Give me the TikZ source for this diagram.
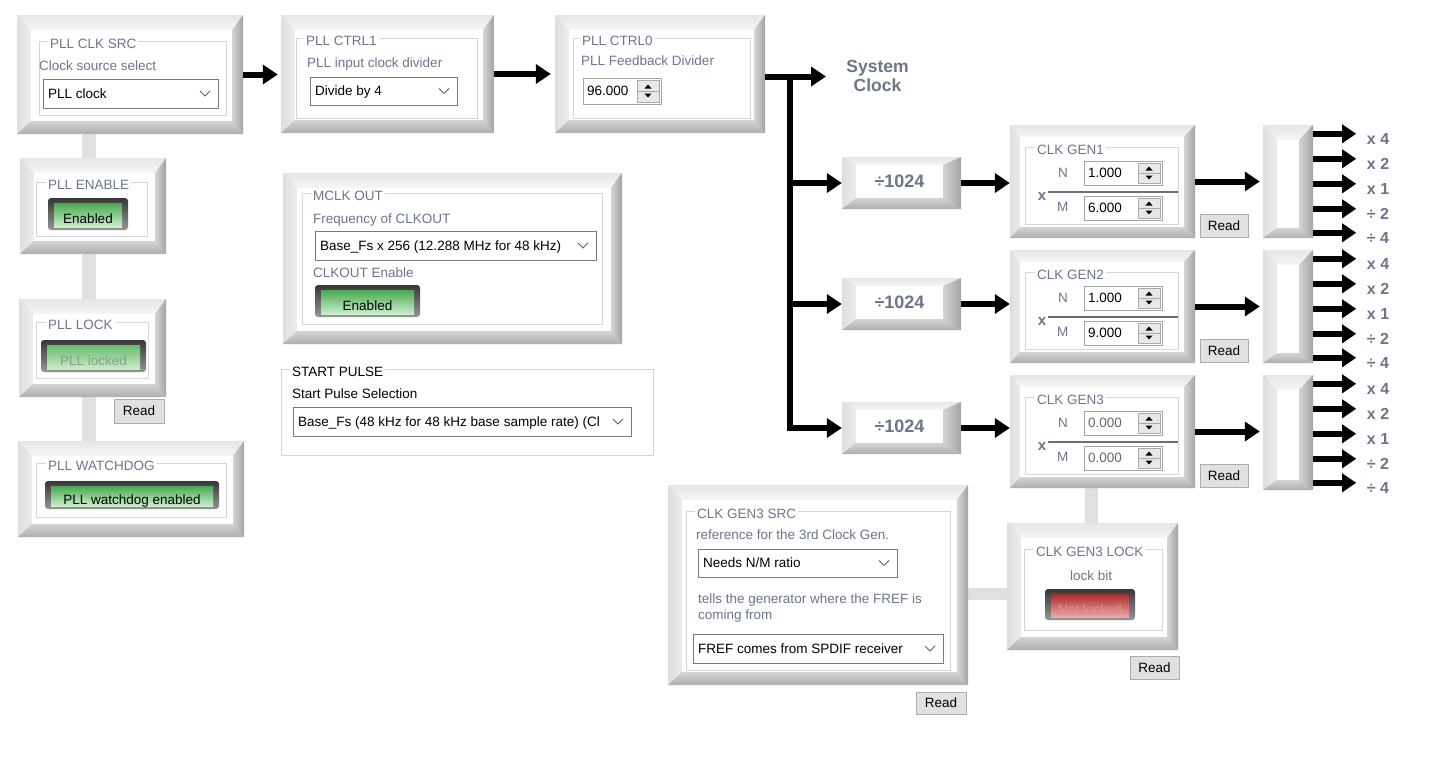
\documentclass[tikz,border=0pt]{standalone}
\usepackage{fontspec}
\setmainfont{Liberation Sans}
\usetikzlibrary{arrows.meta,fit,backgrounds,calc}

\definecolor{lblc}{RGB}{108,118,138}
\definecolor{valc}{RGB}{110,104,100}
\definecolor{bvface}{RGB}{220,220,220}
\definecolor{bvt1}{RGB}{230,230,230}
\definecolor{bvt2}{RGB}{246,246,246}
\definecolor{bvl1}{RGB}{222,222,222}
\definecolor{bvl2}{RGB}{236,236,236}
\definecolor{bvr1}{RGB}{212,212,212}
\definecolor{bvr2}{RGB}{164,164,164}
\definecolor{bvb1}{RGB}{212,212,212}
\definecolor{bvb2}{RGB}{174,174,174}
\definecolor{grpc}{RGB}{214,214,214}
\definecolor{barc}{RGB}{224,224,224}
\definecolor{btnface}{RGB}{225,225,225}
\definecolor{btnedge}{RGB}{173,173,173}
\definecolor{cbedge}{RGB}{122,122,122}
\definecolor{numedge}{RGB}{165,165,165}
\definecolor{spinface}{RGB}{232,232,232}
\definecolor{spinedge}{RGB}{170,170,170}
\definecolor{chevc}{RGB}{96,96,96}
\definecolor{fracc}{RGB}{112,112,112}
\definecolor{ledo1}{RGB}{55,55,55}
\definecolor{ledo2}{RGB}{150,150,150}
\definecolor{grn1}{RGB}{72,168,80}
\definecolor{grn2}{RGB}{205,238,205}
\definecolor{dgrn1}{RGB}{105,186,110}
\definecolor{dgrn2}{RGB}{202,236,202}
\definecolor{dgrnt}{RGB}{135,160,135}
\definecolor{red1}{RGB}{170,42,42}
\definecolor{red2}{RGB}{236,168,168}
\definecolor{redt}{RGB}{228,142,142}

\newcommand\fsz[1]{\fontsize{#1pt}{#1pt}\selectfont}
\newcommand\uif{\fsz{13.5}}

% bevelled panel: name, x1, y1, x2, y2, top, left, bottom, right widths
\newcommand\bevbox[9]{%
  \fill[bvface] (#2,#3) rectangle (#4,#5);
  \shade[top color=bvt1,bottom color=bvt2] (#2,#3) -- (#4,#3) -- ({#4-#9},{#3+#6}) -- ({#2+#7},{#3+#6}) -- cycle;
  \shade[left color=bvl1,right color=bvl2] (#2,#3) -- ({#2+#7},{#3+#6}) -- ({#2+#7},{#5-#8}) -- (#2,#5) -- cycle;
  \shade[left color=bvr1,right color=bvr2] (#4,#3) -- (#4,#5) -- ({#4-#9},{#5-#8}) -- ({#4-#9},{#3+#6}) -- cycle;
  \shade[top color=bvb1,bottom color=bvb2] (#2,#5) -- (#4,#5) -- ({#4-#9},{#5-#8}) -- ({#2+#7},{#5-#8}) -- cycle;
  \fill[white] ({#2+#7},{#3+#6}) rectangle ({#4-#9},{#5-#8});
  \node[fit={(#2,#3) (#4,#5)}, inner sep=0pt] (#1) {};
}
% group frame: name, x1, y1, x2, y2, title x, title, title colour
\newcommand\grp[8]{%
  \draw[grpc, line width=1pt] (#2,#3) rectangle (#4,#5);
  \node[ttl, text=#8] (#1) at ({#6-2},{#3+7.3}) {#7};
}
% combo box: name, x1, y1, x2, y2, text
\newcommand\combo[6]{%
  \draw[cbedge, fill=white, line width=1pt] (#2,#3) rectangle (#4,#5);
  \node[cbtxt] (#1) at ({#2+5},{(#3+#5)/2+4.8}) {#6};
  \draw[chev] ({#4-18},{(#3+#5)/2-2.5}) -- ({#4-13},{(#3+#5)/2+2.5}) -- ({#4-8},{(#3+#5)/2-2.5});
}
% numeric up-down: name, x1, y1, x2, y2, text, colour
\newcommand\numf[7]{%
  \draw[numedge, fill=white, line width=1pt] (#2,#3) rectangle (#4,#5);
  \node[cbtxt, text=#7] (#1) at ({#2+4},{(#3+#5)/2+4.8}) {#6};
  \draw[spinedge, fill=spinface, line width=0.8pt] ({#4-24},{#3+2}) rectangle ({#4-2},{#5-2});
  \draw[spinedge, line width=0.8pt] ({#4-24},{(#3+#5)/2}) -- ({#4-2},{(#3+#5)/2});
  \fill[black] ({#4-16.5},{(#3+#5)/2-2.5}) -- ({#4-9.5},{(#3+#5)/2-2.5}) -- ({#4-13},{(#3+#5)/2-6.5}) -- cycle;
  \fill[black] ({#4-16.5},{(#3+#5)/2+2.5}) -- ({#4-9.5},{(#3+#5)/2+2.5}) -- ({#4-13},{(#3+#5)/2+6.5}) -- cycle;
}
% Read button: name, x1, y1, x2, y2
\newcommand\readbtn[5]{%
  \draw[draw=btnedge, fill=btnface, line width=1pt] (#2,#3) rectangle (#4,#5);
  \node[anchor=base, inner sep=0pt, font=\uif] (#1) at ({(#2+#4)/2},{(#3+#5)/2+4.8}) {Read};
}
% LED button: name, x1, y1, x2, y2, text, top colour, bottom colour, text colour
\newcommand\led[9]{%
  \shade[rounded corners=3pt, top color=ledo1, bottom color=ledo2] (#2,#3) rectangle (#4,#5);
  \shade[top color=#7, bottom color=#8] ({#2+6},{#3+5}) rectangle ({#4-6},{#5-3});
  \node[anchor=base, inner sep=0pt, font=\uif, text=#9] (#1) at ({(#2+#4)/2},{(#3+#5)/2+9.5}) {#6};
}
% clock generator panel: name, outer top, title, N, M, value colour
\newcommand\clkgen[6]{%
  \pgfmathsetmacro\gb{#2+113}%
  \pgfmathsetmacro\gf{#2+22}%
  \bevbox{#1}{1010}{#2}{1195}{\gb}{12}{10}{11}{11}
  \grp{#1t}{1025}{\gf}{1178}{\gf+77}{1037}{#3}{lblc}
  \node[lab] (#1n) at (1058,\gf+30.8) {N};
  \numf{#1nv}{1084}{\gf+14}{1162}{\gf+38}{#4}{#6}
  \draw[fracc, line width=1.2pt] (1048,\gf+45) -- (1178,\gf+45);
  \node[anchor=base, inner sep=0pt, text=lblc, font=\fsz{15}\bfseries] (#1x) at (1042,\gf+53) {x};
  \node[lab] (#1m) at (1057,\gf+64.8) {M};
  \numf{#1mv}{1084}{\gf+49}{1162}{\gf+73}{#5}{#6}
  \readbtn{#1r}{1200}{#2+89}{1248}{#2+112}
}

\tikzset{
  lab/.style={anchor=base west, inner sep=0pt, text=lblc, font=\uif},
  labk/.style={lab, text=black},
  cbtxt/.style={anchor=base west, inner sep=0pt, font=\uif},
  ttl/.style={anchor=base west, fill=white, inner xsep=2pt, inner ysep=1pt, font=\uif},
  chev/.style={draw=chevc, line width=0.9pt},
  bar/.style={draw=barc, line width=14pt},
  arr/.style={line width=6pt, -{Triangle[length=15pt,width=19pt]}},
  oarr/.style={line width=5.5pt, -{Triangle[length=14pt,width=18pt]}},
  olab/.style={anchor=base west, inner sep=0pt, text=lblc, font=\fsz{16}\bfseries},
  divt/.style={anchor=base, inner sep=0pt, text=lblc, font=\fsz{18}\bfseries},
  syst/.style={anchor=base, inner sep=0pt, text=lblc, font=\fsz{17.5}\bfseries},
}

\begin{document}
\begin{tikzpicture}[x=1pt,y=-1pt]
\useasboundingbox (0,0) rectangle (1431,774);

% ---------------- left column ----------------
\bevbox{pllsrc}{17}{15}{243}{134}{15}{14}{13}{11}
\grp{pllsrct}{39}{41}{226}{115}{50}{PLL CLK SRC}{lblc}
\node[lab] (pllsrcl) at (39,70.5) {Clock source select};
\combo{pllsrcc}{43}{79}{218}{108}{PLL clock}

\bevbox{pllen}{20}{158}{166}{254}{15}{14}{13}{11}
\grp{pllent}{36}{182}{147}{236}{48}{PLL ENABLE}{lblc}
\led{pllenb}{48}{198}{128}{230}{Enabled}{grn1}{grn2}{black}

\bevbox{plllock}{19}{299}{166}{397}{15}{14}{13}{11}
\grp{plllockt}{36}{322}{148}{378}{48}{PLL LOCK}{lblc}
\led{plllockb}{41}{340}{146}{372}{PLL locked}{dgrn1}{dgrn2}{dgrnt}
\readbtn{plllockr}{114}{399}{164}{423}

\bevbox{pllwd}{18}{441}{244}{537}{15}{14}{13}{11}
\grp{pllwdt}{36}{463}{226}{517}{48}{PLL WATCHDOG}{lblc}
\led{pllwdb}{45}{481}{219}{509}{PLL watchdog enabled}{grn1}{grn2}{black}

% ---------------- PLL control ----------------
\bevbox{pllc1}{281}{15}{494}{133}{15}{14}{13}{11}
\grp{pllc1t}{296}{38}{477}{118}{306}{PLL CTRL1}{lblc}
\node[lab] (pllc1l) at (307,67) {PLL input clock divider};
\combo{pllc1c}{310}{77}{457}{105}{Divide by 4}

\bevbox{pllc0}{555}{15}{765}{133}{15}{14}{13}{11}
\grp{pllc0t}{573}{38}{750}{118}{582}{PLL CTRL0}{lblc}
\node[lab] (pllc0l) at (581,65) {PLL Feedback Divider};
\numf{pllc0n}{583}{78}{661}{104}{96.000}{black}

% ---------------- MCLK OUT / START PULSE ----------------
\bevbox{mclk}{283}{173}{622}{344}{15}{14}{13}{11}
\grp{mclkt}{302}{193}{602}{324}{313}{MCLK OUT}{lblc}
\node[lab] (mclkl1) at (313,223) {Frequency of CLKOUT};
\combo{mclkc}{315}{231}{596}{260}{Base\_Fs x 256 (12.288 MHz for 48 kHz)}
\node[lab] (mclkl2) at (313,277.5) {CLKOUT Enable};
\led{mclkb}{315}{285}{420}{317}{Enabled}{grn1}{grn2}{black}

\grp{spt}{281}{369}{653}{455}{292}{START PULSE}{black}
\node[labk] (spl) at (292,398) {Start Pulse Selection};
\combo{spc}{293}{407}{631}{436}{Base\_Fs (48 kHz for 48 kHz base sample rate) (Cl}

% ---------------- system clock tree ----------------
\node[syst] (sys1) at (877.5,72.7) {System};
\node[syst] (sys2) at (877.5,91) {Clock};

\bevbox{div1}{842}{157}{961}{209}{8}{14}{11}{18}
\bevbox{div2}{842}{278}{961}{330}{8}{14}{11}{18}
\bevbox{div3}{842}{402}{961}{454}{8}{14}{11}{18}
\node[divt] (div1t) at (899.5,187) {÷1024};
\node[divt] (div2t) at (899.5,308) {÷1024};
\node[divt] (div3t) at (899.5,432) {÷1024};

\clkgen{gen1}{125}{CLK GEN1}{1.000}{6.000}{black}
\clkgen{gen2}{250}{CLK GEN2}{1.000}{9.000}{black}
\clkgen{gen3}{375}{CLK GEN3}{0.000}{0.000}{valc}

\bevbox{sp1}{1263}{125}{1313}{238}{15}{14}{10}{14}
\bevbox{sp2}{1263}{250}{1313}{363}{15}{14}{10}{14}
\bevbox{sp3}{1263}{375}{1313}{490}{15}{14}{10}{14}

% ---------------- CLK GEN3 SRC / LOCK ----------------
\bevbox{gsrc}{668}{485}{968}{685}{15}{14}{13}{11}
\grp{gsrct}{686}{511}{950}{670}{697}{CLK GEN3 SRC}{lblc}
\node[lab] (gsrcl1) at (696,539) {reference for the 3rd Clock Gen.};
\combo{gsrcc1}{698}{549}{897}{577}{Needs N/M ratio}
\node[lab] (gsrcl2) at (698,603) {tells the generator where the FREF is};
\node[lab] (gsrcl3) at (698,619) {coming from};
\combo{gsrcc2}{693}{634}{943}{663}{FREF comes from SPDIF receiver}
\readbtn{gsrcr}{916}{692}{966}{714}

\bevbox{glock}{1007}{523}{1178}{650}{15}{14}{13}{11}
\grp{glockt}{1024}{549}{1162}{630}{1036}{CLK GEN3 LOCK}{lblc}
\node[lab, anchor=base] (glockl) at (1091,580.5) {lock bit};
\led{glockb}{1045}{589}{1135}{620}{Not locked}{red1}{red2}{redt}
\readbtn{glockr}{1130}{656}{1179}{679}

% ---------------- connectors ----------------
\coordinate (sysclk) at (826,76.5);
\coordinate (jn) at (790,76.5);
\draw[arr, shorten >=3pt] (pllsrc.east) -- (pllsrc.east -| pllc1.west);
\draw[arr, shorten >=4pt] (pllc1.east) -- (pllc1.east -| pllc0.west);
\draw[arr] (pllc0.east |- sysclk) -- (sysclk);
\draw[arr] (jn) |- (div1.west);
\draw[arr] (jn) |- (div2.west);
\draw[arr] (jn) |- (div3.west);
\draw[arr] (div1.east) -- (div1.east -| gen1.west);
\draw[arr] (div2.east) -- (div2.east -| gen2.west);
\draw[arr] (div3.east) -- (div3.east -| gen3.west);
\draw[arr, shorten >=3pt] (gen1.east) -- (gen1.east -| sp1.west);
\draw[arr, shorten >=3pt] (gen2.east) -- (gen2.east -| sp2.west);
\draw[arr, shorten >=3pt] (gen3.east) -- (gen3.east -| sp3.west);

\foreach \s in {sp1,sp2,sp3}{
  \foreach \dy/\lab [count=\i] in {9/x 4,34/x 2,59/x 1,84/÷ 2,108/÷ 4}{
    \draw[oarr] ([yshift=-\dy*1pt]\s.north east) -- ++(43,0)
      node[olab, xshift=8pt, yshift=-10.5pt, name=\s-o\i] {\lab};
  }
}

% grey link bars behind the panels
\begin{pgfonlayer}{background}
  \fill[white] (0,0) rectangle (1431,774);
  \coordinate (bx1) at (89,0);
  \coordinate (bx2) at (1091,0);
  \coordinate (by1) at (0,594);
  \draw[bar] (pllsrc.south -| bx1) -- (pllwd.north -| bx1);
  \draw[bar, line width=13pt] (gen3.south -| bx2) -- (glock.north -| bx2);
  \draw[bar, line width=12pt] (gsrc.east |- by1) -- (glock.west |- by1);
\end{pgfonlayer}
\end{tikzpicture}
\end{document}
